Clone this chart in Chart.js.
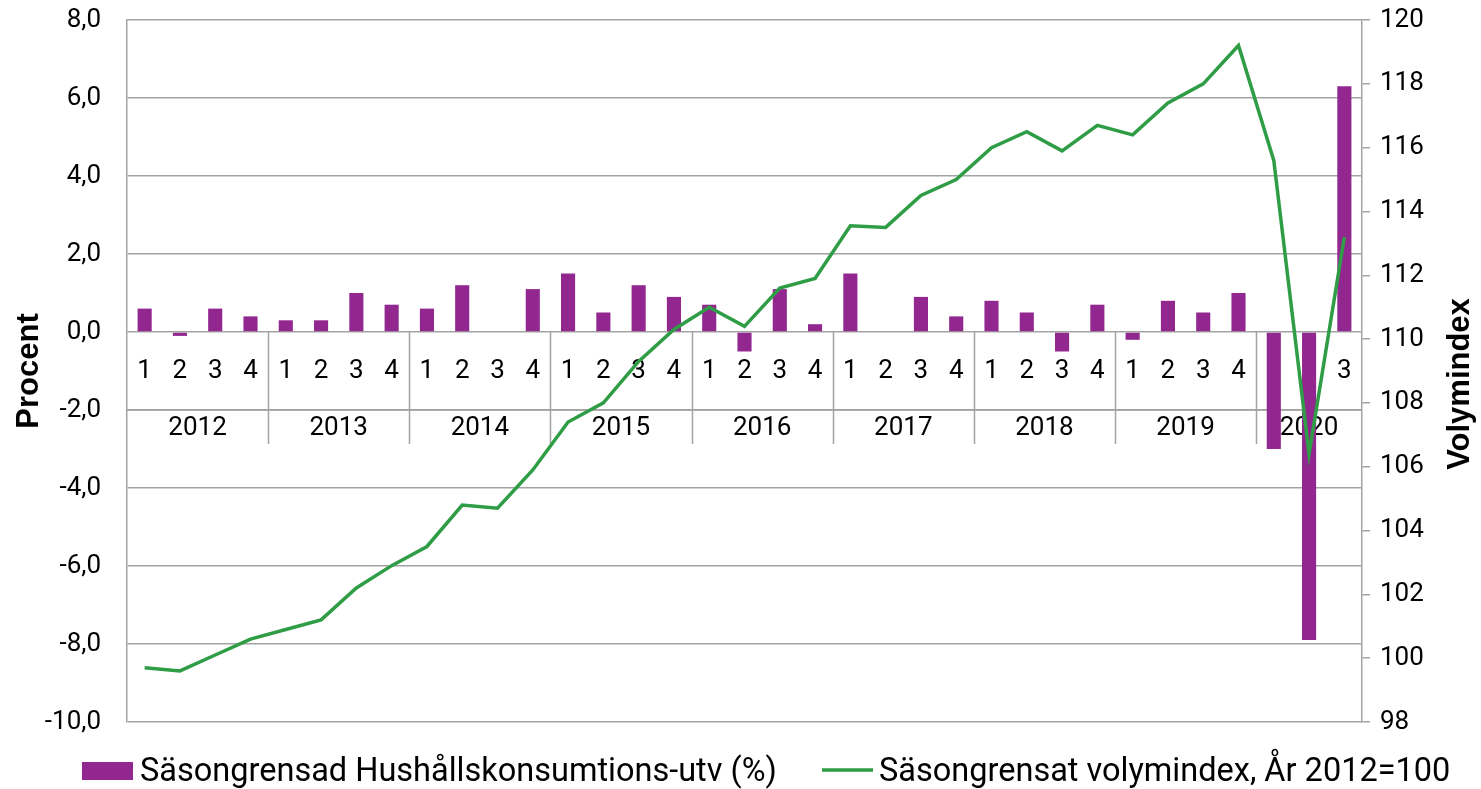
<!DOCTYPE html>
<html>
<head>
<meta charset="utf-8">
<script src="https://cdn.jsdelivr.net/npm/chart.js@4.4.1/dist/chart.umd.min.js"></script>
<style>
  html, body { margin: 0; background: #fff; }
</style>
</head>
<body>
<canvas id="myChart" width="1481" height="789"></canvas>
<script>
// kategorier: år + kvartal
const kvartal = ['1','2','3','4','1','2','3','4','1','2','3','4','1','2','3','4','1','2','3','4',
                 '1','2','3','4','1','2','3','4','1','2','3','4','1','2','3'];
const ar = ['2012','2012','2012','2012','2013','2013','2013','2013','2014','2014','2014','2014',
            '2015','2015','2015','2015','2016','2016','2016','2016','2017','2017','2017','2017',
            '2018','2018','2018','2018','2019','2019','2019','2019','2020','2020','2020'];

// Säsongrensad hushållskonsumtion, utveckling i procent
const utveckling = [0.6, -0.1, 0.6, 0.4, 0.3, 0.3, 1.0, 0.7, 0.6, 1.2, 0.0, 1.1,
                    1.5, 0.5, 1.2, 0.9, 0.7, -0.5, 1.1, 0.2, 1.5, 0.0, 0.9, 0.4,
                    0.8, 0.5, -0.5, 0.7, -0.2, 0.8, 0.5, 1.0, -3.0, -7.9, 6.3];

// Säsongrensat volymindex, år 2012=100
const volymindex = [99.7, 99.6, 100.1, 100.6, 100.9, 101.2, 102.2, 102.9, 103.5, 104.8, 104.7, 105.9,
                    107.4, 108.0, 109.3, 110.3, 111.0, 110.4, 111.6, 111.9, 113.55, 113.5, 114.5, 115.0,
                    116.0, 116.5, 115.9, 116.7, 116.4, 117.4, 118.0, 119.2, 115.6, 106.4, 113.2];

const serieNamn = ['Säsongrensad Hushållskonsumtions-utv (%)', 'Säsongrensat volymindex, År 2012=100'];

const barFarg = '#92278f';
const linjeFarg = '#2f9c46';
const gridFarg = '#a3a3a3';
const typsnitt = 'Roboto';
const titelTypsnitt = 'Liberation Sans';

const labels = ar.map((a, i) => a + ' K' + kvartal[i]);

// fast bredd på axlarna, ingen extra luft ovanför/under
function fastAxel(bredd) {
    return function (s) {
        s.width = bredd;
        s.paddingTop = 0;
        s.paddingBottom = 0;
        s.paddingLeft = 0;
        s.paddingRight = 0;
    };
}

// kvartal- och årsetiketter under nollinjen
const kategoriAxel = {
    id: 'kategoriAxel',
    beforeDatasetsDraw(chart) {
        const ctx = chart.ctx;
        const x = chart.scales.x;
        const y = chart.scales.y;
        const area = chart.chartArea;
        const y0 = y.getPixelForValue(0);
        const steg = x.getPixelForValue(1) - x.getPixelForValue(0);

        ctx.save();
        ctx.strokeStyle = gridFarg;
        ctx.lineWidth = 1.5;
        ctx.beginPath();
        ctx.moveTo(area.left, y0 + 78);
        ctx.lineTo(area.right, y0 + 78);
        for (let i = 1; i < ar.length; i++) {
            if (ar[i] !== ar[i - 1]) {
                const xs = Math.round(x.getPixelForValue(i) - steg / 2) + 0.5;
                ctx.moveTo(xs, y0);
                ctx.lineTo(xs, y0 + 112);
            }
        }
        ctx.stroke();

        ctx.fillStyle = '#000';
        ctx.font = '26px ' + typsnitt;
        ctx.textAlign = 'center';
        ctx.textBaseline = 'middle';
        kvartal.forEach((k, i) => {
            ctx.fillText(k, x.getPixelForValue(i), y0 + 39);
        });

        let start = 0;
        for (let i = 1; i <= ar.length; i++) {
            if (i === ar.length || ar[i] !== ar[start]) {
                const mitt = (x.getPixelForValue(start) + x.getPixelForValue(i - 1)) / 2;
                ctx.fillText(ar[start], mitt, y0 + 96);
                start = i;
            }
        }
        ctx.restore();
    }
};

// höger axeltitel, läses nerifrån och upp
const hogerTitel = {
    id: 'hogerTitel',
    afterDraw(chart) {
        const ctx = chart.ctx;
        ctx.save();
        ctx.translate(1460, 384);
        ctx.rotate(-Math.PI / 2);
        ctx.font = 'bold 31px ' + titelTypsnitt;
        ctx.fillStyle = '#000';
        ctx.textAlign = 'center';
        ctx.textBaseline = 'middle';
        ctx.fillText('Volymindex', 0, 0);
        ctx.restore();
    }
};

// teckenförklaring längst ner
const forklaring = {
    id: 'forklaring',
    afterDraw(chart) {
        const ctx = chart.ctx;
        ctx.save();
        ctx.font = '32.5px ' + typsnitt;
        ctx.fillStyle = barFarg;
        ctx.fillRect(82, 762, 51, 18);
        ctx.fillStyle = '#000';
        ctx.textBaseline = 'alphabetic';
        ctx.fillText(serieNamn[0], 140, 781);

        ctx.strokeStyle = linjeFarg;
        ctx.lineWidth = 3.5;
        ctx.beginPath();
        ctx.moveTo(822, 770);
        ctx.lineTo(873, 770);
        ctx.stroke();
        ctx.fillText(serieNamn[1], 879, 781);
        ctx.restore();
    }
};

new Chart('myChart', {
    type: 'bar',
    data: {
        labels: labels,
        datasets: [
            {
                type: 'line',
                label: serieNamn[1],
                data: volymindex,
                yAxisID: 'y2',
                borderColor: linjeFarg,
                borderWidth: 3.5,
                pointRadius: 0,
                tension: 0,
                order: 1
            },
            {
                type: 'bar',
                label: serieNamn[0],
                data: utveckling,
                yAxisID: 'y',
                backgroundColor: barFarg,
                barPercentage: 0.4,
                categoryPercentage: 1.0,
                order: 2
            }
        ]
    },
    options: {
        responsive: false,
        animation: false,
        devicePixelRatio: 1,
        layout: {
            autoPadding: false,
            padding: { left: 0, right: 0, top: 20, bottom: 67 }
        },
        plugins: {
            legend: { display: false },
            tooltip: { enabled: false }
        },
        scales: {
            x: { display: false, offset: true },
            y: {
                position: 'left',
                min: -10,
                max: 8,
                ticks: {
                    stepSize: 2,
                    padding: 26,
                    color: '#000',
                    font: { family: typsnitt, size: 26 },
                    callback: v => v.toFixed(1).replace('.', ',')
                },
                grid: { color: gridFarg, lineWidth: 1.5, drawTicks: false },
                border: { display: true, color: gridFarg, width: 1.5 },
                title: {
                    display: true,
                    text: 'Procent',
                    color: '#000',
                    font: { family: titelTypsnitt, size: 31, weight: 'bold' },
                    padding: { top: 11, bottom: 0 }
                },
                afterFit: fastAxel(127)
            },
            y2: {
                position: 'right',
                min: 98,
                max: 120,
                ticks: {
                    stepSize: 2,
                    padding: 10,
                    color: '#000',
                    font: { family: typsnitt, size: 26 }
                },
                grid: { drawOnChartArea: false, drawTicks: true, tickLength: 8, color: gridFarg, lineWidth: 1.5 },
                border: { display: true, color: gridFarg, width: 1.5 },
                afterFit: fastAxel(119)
            }
        }
    },
    plugins: [kategoriAxel, hogerTitel, forklaring]
});
</script>
</body>
</html>
